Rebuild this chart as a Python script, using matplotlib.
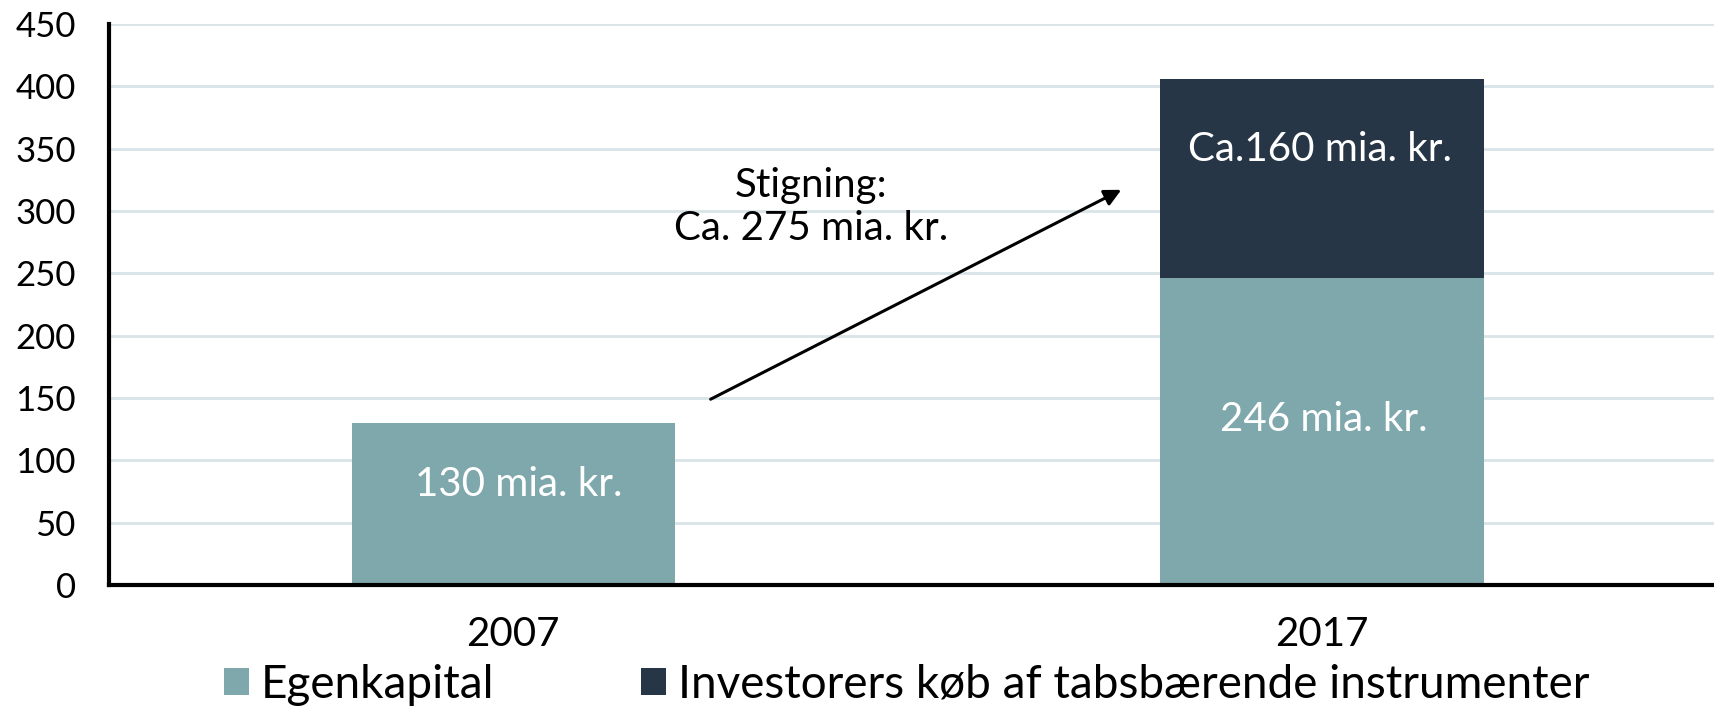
import matplotlib
matplotlib.use("Agg")
import matplotlib.pyplot as plt
from matplotlib.patches import Patch

plt.rcParams['font.family'] = ['Lato', 'DejaVu Sans']

categories = ["2007", "2017"]
egenkapital = [130, 246]
investorer = [0, 160]
series_names = ["Egenkapital", "Investorers køb af tabsbærende instrumenter"]
bar_labels_eq = ["130 mia. kr.", "246 mia. kr."]
bar_labels_inv = ["", "Ca.160 mia. kr."]
annot_text = "Stigning:\nCa. 275 mia. kr."
yticks = [0, 50, 100, 150, 200, 250, 300, 350, 400, 450]

c_eq = "#7FA8AD"
c_inv = "#263646"

fig = plt.figure(figsize=(17.14, 7.06), dpi=100)
ax = fig.add_axes([109/1714, 121/706, 1 - 109/1714, (585-24)/706])

x = list(range(len(categories)))
ax.bar(x, egenkapital, width=0.4, color=c_eq, zorder=3)
ax.bar(x, investorer, width=0.4, bottom=egenkapital, color=c_inv, zorder=3)

ax.set_xlim(-0.5, 1.485)
ax.set_ylim(0, 450)
ax.set_yticks(yticks)
ax.set_yticklabels([str(v) for v in yticks], fontsize=25)
ax.set_xticks(x)
ax.set_xticklabels(categories, fontsize=29)
ax.tick_params(axis='y', length=0, pad=24)
ax.tick_params(axis='x', length=0, pad=22)
ax.grid(axis='y', color="#D9E4E8", linewidth=2, zorder=0)
for s in ["top", "right"]:
    ax.spines[s].set_visible(False)
for s in ["left", "bottom"]:
    ax.spines[s].set_linewidth(3)
    ax.spines[s].set_color("black")
    ax.spines[s].set_zorder(4)

# data labels
lab_fs = 29
ax.text(x[0] + 0.007, 81, bar_labels_eq[0], ha='center', va='center', color='white', fontsize=lab_fs, zorder=5)
ax.text(x[1] + 0.002, 133, bar_labels_eq[1], ha='center', va='center', color='white', fontsize=lab_fs, zorder=5)
ax.text(x[1] - 0.002, 349, bar_labels_inv[1], ha='center', va='center', color='white', fontsize=lab_fs, zorder=5)

# arrow and annotation
ax.annotate("", xy=(0.755, 318), xytext=(0.241, 148),
            arrowprops=dict(arrowstyle="-|>", color="black", lw=2.2, mutation_scale=25), zorder=6)
ax.text(0.368, 303, annot_text, ha='center', va='center', fontsize=29, linespacing=1.2, zorder=6)

handles = [Patch(facecolor=c_eq), Patch(facecolor=c_inv)]
fig.legend(handles, series_names, loc='center left', bbox_to_anchor=(224/1714, 0.03),
           ncol=2, frameon=False, fontsize=33, handlelength=0.55, handleheight=0.55,
           handletextpad=0.25, columnspacing=3.2, borderaxespad=0, borderpad=0)

fig.savefig("out.png", dpi=100)
